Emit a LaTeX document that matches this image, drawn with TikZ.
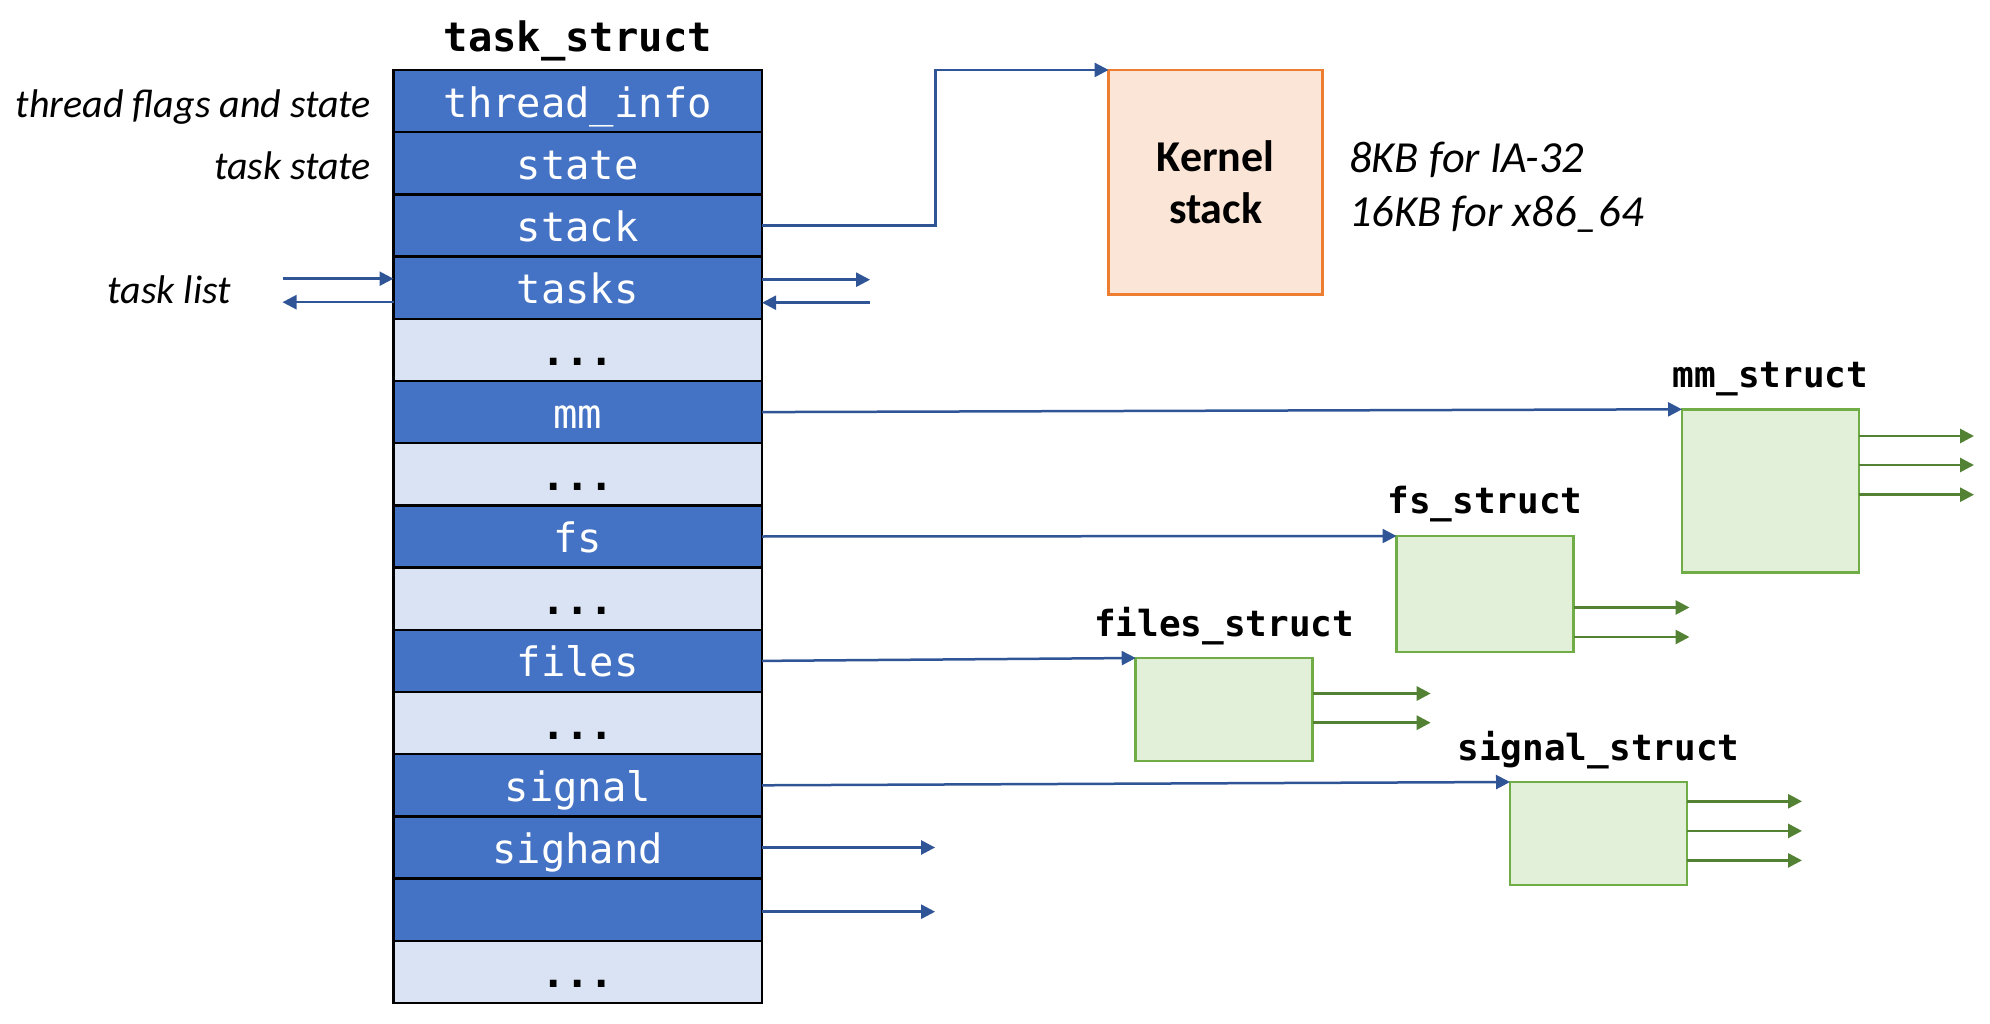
\documentclass[tikz,border=0pt]{standalone}
\usepackage{fontspec}
\setmainfont{Carlito}
\setmonofont{DejaVu Sans Mono}
\usetikzlibrary{arrows.meta, positioning}

\definecolor{fielddark}{HTML}{4472C4}
\definecolor{fieldlight}{HTML}{DAE3F3}
\definecolor{linkblue}{HTML}{2F5597}
\definecolor{stackfill}{HTML}{FBE5D6}
\definecolor{stackline}{HTML}{ED7D31}
\definecolor{structfill}{HTML}{E2F0D9}
\definecolor{structline}{HTML}{70AD47}
\definecolor{linkgreen}{HTML}{548235}

\begin{document}
\begin{tikzpicture}[
    x=1pt, y=1pt,
    node distance=0pt,
    field/.style={rectangle, draw=black, line width=2.5pt, fill=fielddark, text=white, outer sep=0pt, inner sep=4pt,
        minimum width=368.6pt, minimum height=62.2pt, text height=36pt, text depth=4pt,
        font=\ttfamily\fontsize{40.5}{44}\selectfont},
    gap/.style={field, fill=fieldlight, text=black, font=\ttfamily\bfseries\fontsize{40.5}{44}\selectfont},
    kstack/.style={rectangle, draw=stackline, line width=2.5pt, fill=stackfill, outer sep=0pt, align=center,
        minimum width=214pt, minimum height=224.7pt, font=\bfseries\fontsize{44}{52.7}\selectfont},
    sbox/.style={rectangle, draw=structline, line width=2.8pt, fill=structfill, outer sep=0pt,
        minimum width=177pt, anchor=north west},
    slabel/.style={anchor=base, inner sep=0pt, font=\ttfamily\bfseries\fontsize{36}{40}\selectfont},
    note/.style={inner sep=0pt, font=\itshape\fontsize{40}{44}\selectfont},
    bignote/.style={note, anchor=base west, font=\itshape\fontsize{44.4}{48}\selectfont},
    arrow/.style={draw=linkblue, line width=2.5pt, -{Triangle[length=14pt, width=14pt]}},
    garrow/.style={draw=linkgreen, line width=2.8pt, -{Triangle[length=14pt, width=14pt]}}
]
    \useasboundingbox (0,0) rectangle (1990,-1024);

    \node[field] (r1) at (577.8,-101.1) {thread\_info};
    \node[field, below=of r1] (r2) {state};
    \node[field, below=of r2] (r3) {stack};
    \node[field, below=of r3] (r4) {tasks};
    \node[gap, below=of r4] (r5) {...};
    \node[field, below=of r5] (r6) {mm};
    \node[gap, below=of r6] (r7) {...};
    \node[field, below=of r7] (r8) {fs};
    \node[gap, below=of r8] (r9) {...};
    \node[field, below=of r9] (r10) {files};
    \node[gap, below=of r10] (r11) {...};
    \node[field, below=of r11] (r12) {signal};
    \node[field, below=of r12] (r13) {sighand};
    \node[field, below=of r13] (r14) {};
    \node[gap, below=of r14] (r15) {...};

    \node[slabel, font=\ttfamily\bfseries\fontsize{40.5}{44}\selectfont] (title) at ([yshift=18.6]r1.north) {task\_struct};

    \node[note, anchor=base east] (lflags) at ([xshift=-22.3, yshift=-16]r1.west) {thread flags and state};
    \node[note, anchor=base east] (lstate) at ([xshift=-22.3, yshift=-16]r2.west) {task state};
    \node[note, anchor=base east] (llist) at ([xshift=-162.5, yshift=-16]r4.west) {task list};

    \node[kstack] (kernel) at (1215.6,-182.3) {Kernel\\stack};
    \node[bignote] (sz32) at (1349,-172.7) {8KB for IA-32};
    \node[bignote] (sz64) at (1349,-226.7) {16KB for x86\_64};

    \node[sbox, minimum height=163pt] (mm) at (1682,-409.3) {};
    \node[sbox, minimum height=116pt] (fs) at (1396.5,-536) {};
    \node[sbox, minimum height=103pt] (files) at (1135.7,-658) {};
    \node[sbox, minimum height=103pt] (signal) at (1510,-782) {};

    \node[slabel] (mmlbl) at ([yshift=21.5]mm.north) {mm\_struct};
    \node[slabel] (fslbl) at ([yshift=22.5]fs.north) {fs\_struct};
    \node[slabel] (fileslbl) at ([yshift=22]files.north) {files\_struct};
    \node[slabel] (signallbl) at ([yshift=22]signal.north) {signal\_struct};

    \draw[arrow] (r3.east) -| ([xshift=-173]kernel.north west) -- (kernel.north west);

    \coordinate (tl1) at ([xshift=-111, yshift=9]r4.west);
    \coordinate (tl2) at ([xshift=-111, yshift=-14.5]r4.west);
    \coordinate (tr1) at ([xshift=108, yshift=8]r4.east);
    \coordinate (tr2) at ([xshift=108, yshift=-15]r4.east);
    \draw[arrow] (tl1) -- (tl1 -| r4.west);
    \draw[arrow] (tl2 -| r4.west) -- (tl2);
    \draw[arrow] (tr1 -| r4.east) -- (tr1);
    \draw[arrow] (tr2) -- (tr2 -| r4.east);

    \draw[arrow] (r6.east) -- (mm.north west);
    \draw[arrow] (r8.east) -- (fs.north west);
    \draw[arrow] (r10.east) -- (files.north west);
    \draw[arrow] (r12.east) -- (signal.north west);

    \coordinate (shend) at ([xshift=173]r13.east);
    \coordinate (nxend) at ([xshift=173, yshift=-2]r14.east);
    \draw[arrow] (r13.east) -- (shend);
    \draw[arrow] ([yshift=-2]r14.east) -- (nxend);

    \foreach \dy in {26.7,55.7,85.4}
        \draw[garrow] ([yshift=-\dy]mm.north east) -- ++(115,0);
    \foreach \dy in {71.5,101}
        \draw[garrow] ([yshift=-\dy]fs.north east) -- ++(116,0);
    \foreach \dy in {35.5,64.7}
        \draw[garrow] ([yshift=-\dy]files.north east) -- ++(118,0);
    \foreach \dy in {19.3,48.9,78.4}
        \draw[garrow] ([yshift=-\dy]signal.north east) -- ++(115,0);
\end{tikzpicture}
\end{document}
